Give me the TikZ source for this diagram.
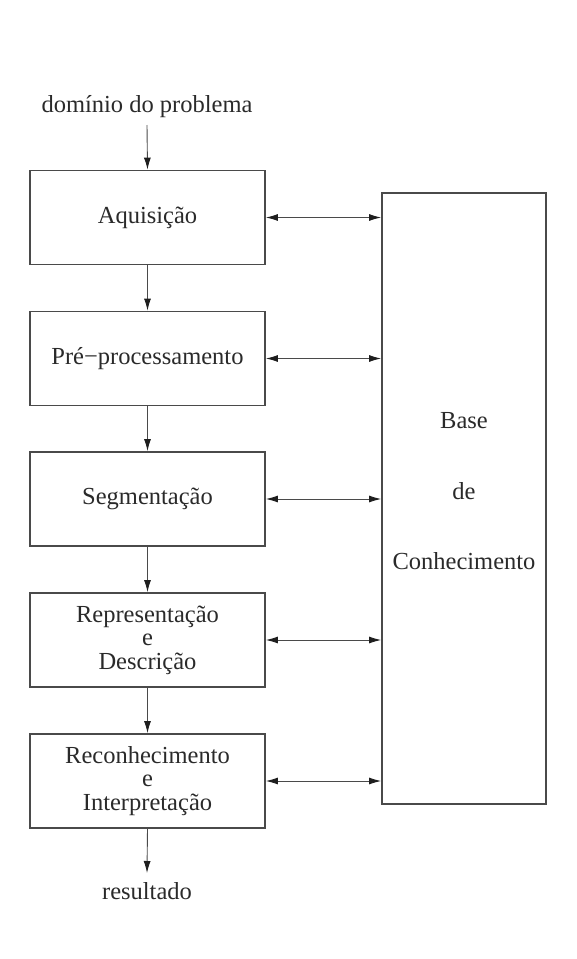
\documentclass[tikz,border=0pt]{standalone}
\usepackage{fontspec}
\setmainfont{Liberation Serif}
\usetikzlibrary{arrows.meta}
\definecolor{ln}{HTML}{4A4A4A}
\definecolor{tx}{HTML}{2A2A2A}
\definecolor{hd}{HTML}{1E1E1E}
\begin{document}
\begin{tikzpicture}[x=1pt,y=-1pt,
  every node/.style={text=tx,font=\fontsize{24.5}{23.5}\selectfont},
  stagebox/.style={draw=ln,line width=1.8pt,minimum width=235pt,minimum height=94pt,align=center,inner sep=0pt},
  kbbox/.style={draw=ln,line width=1.8pt,minimum width=164pt,minimum height=611pt,inner sep=0pt},
  flow/.style={draw=ln,line width=0.9pt,-{Latex[length=12pt,width=7pt,color=hd]}},
  link/.style={draw=ln,line width=0.9pt,{Latex[length=12pt,width=7pt,color=hd]}-{Latex[length=12pt,width=7pt,color=hd]}},
  lbl/.style={inner sep=0pt}]
\useasboundingbox (0,0) rectangle (576,959);
\node[lbl] (top) at (147,107) {domínio do problema};
\node[stagebox] (b1) at (147.5,217.5) {Aquisição};
\node[stagebox] (b2) at (147.5,358.5) {Pré−processamento};
\node[stagebox] (b3) at (147.5,499) {Segmentação};
\node[stagebox] (b4) at (147.5,640) {Representação\\e\\Descrição};
\node[stagebox] (b5) at (147.5,781) {Reconhecimento\\e\\Interpretação};
\node[lbl] (bot) at (147,891) {resultado};
\node[kbbox] (kb) at (464,498.5) {};
\node[lbl] (kb1) at (464,421) {Base};
\node[lbl] (kb2) at (464,491) {de};
\node[lbl] (kb3) at (464,561) {Conhecimento};
\coordinate (ts) at (147,125);
\coordinate (be) at (147,873);
\draw[flow] (ts) -- (b1.north);
\draw[flow] (b1.south) -- (b2.north);
\draw[flow] (b2.south) -- (b3.north);
\draw[flow] (b3.south) -- (b4.north);
\draw[flow] (b4.south) -- (b5.north);
\draw[flow] (b5.south) -- (be);
\foreach \b in {b1,b2,b3,b4,b5}{
  \draw[link] (\b.east) -- (\b.east -| kb.west);
}
\end{tikzpicture}
\end{document}
